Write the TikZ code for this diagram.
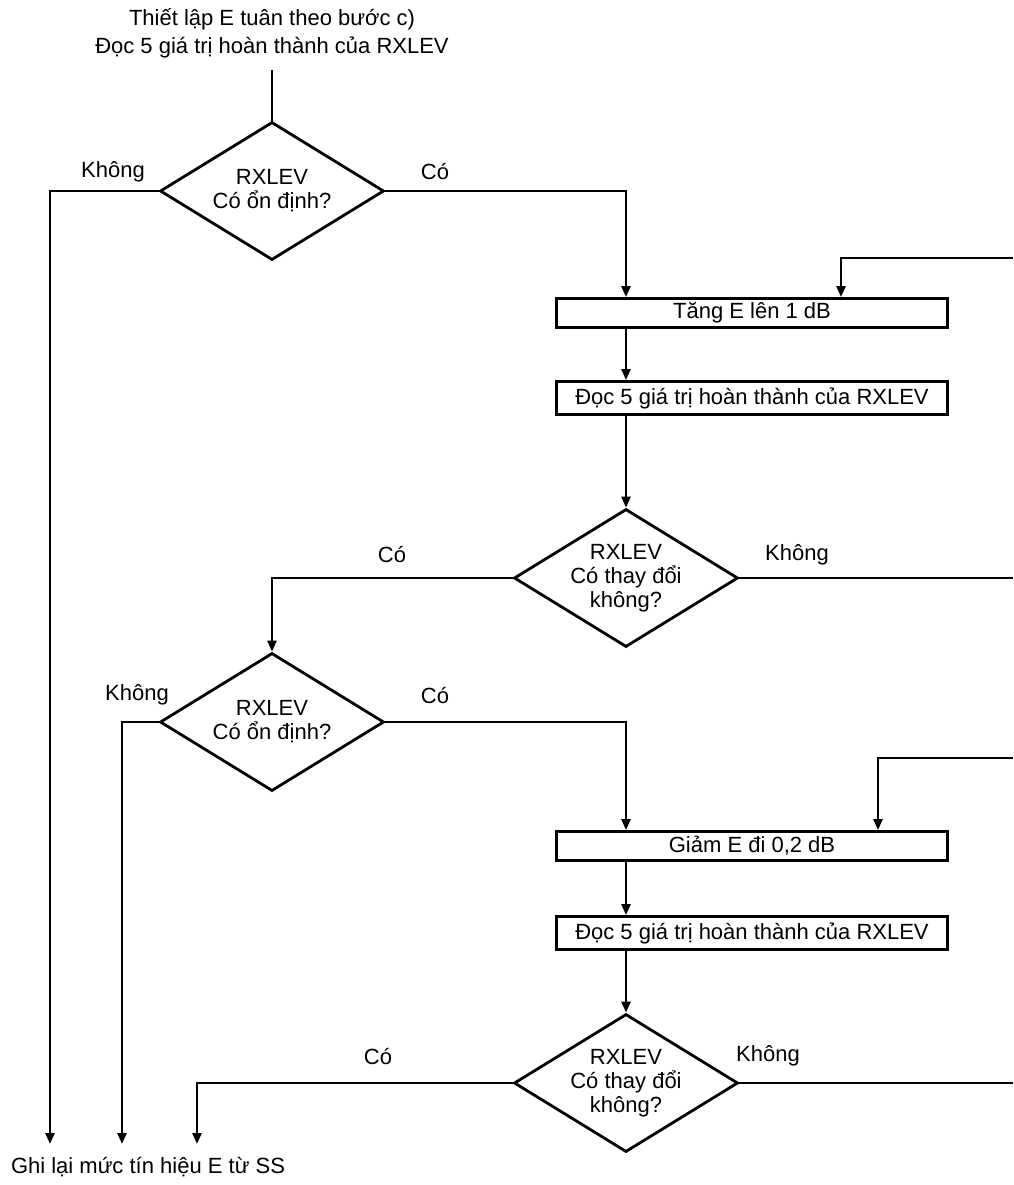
\documentclass[tikz,border=0pt]{standalone}
\usepackage{fontspec}
\setmainfont{Liberation Sans}
\usetikzlibrary{shapes.geometric,arrows.meta}
\begin{document}
\begin{tikzpicture}[x=1pt,y=-1pt,
  txt/.style={font=\fontsize{22}{24}\selectfont,inner sep=0pt,align=center},
  dia/.style={txt,draw,diamond,shape aspect=1.62,line width=2.8pt,minimum width=224pt,minimum height=138pt},
  box/.style={txt,draw,rectangle,line width=2.8pt,minimum width=391pt},
  conn/.style={line width=2.5pt},
  arr/.style={conn,-{Triangle[length=11pt,width=9pt]}}]
\useasboundingbox (0,0) rectangle (1013,1185);
\fill[white] (0,0) rectangle (1013,1185);
% start text
\node[txt,font=\fontsize{22}{28}\selectfont] (start) at (272,33) {Thiết lập E tuân theo bước c)\\Đọc 5 giá trị hoàn thành của RXLEV};
\node[dia] (d1) at (272,191) {RXLEV\\Có ổn định?};
\node[box,minimum height=29pt] (b1) at (752,313) {Tăng E lên 1 dB};
\node[box,minimum height=33pt] (b2) at (752,398) {Đọc 5 giá trị hoàn thành của RXLEV};
\node[dia] (d2) at (626,578) {RXLEV\\Có thay đổi\\không?};
\node[dia] (d3) at (272,722) {RXLEV\\Có ổn định?};
\node[box,minimum height=29pt] (b3) at (752,846) {Giảm E đi 0,2 dB};
\node[box,minimum height=33pt] (b4) at (752,933) {Đọc 5 giá trị hoàn thành của RXLEV};
\node[dia] (d4) at (626,1083) {RXLEV\\Có thay đổi\\không?};
\node[txt] (end) at (148,1167) {Ghi lại mức tín hiệu E từ SS};
% labels
\node[txt] (l1) at (113,172) {Không};
\node[txt] (l2) at (435,172) {Có};
\node[txt] (l3) at (392,555) {Có};
\node[txt] (l4) at (797,555) {Không};
\node[txt] (l5) at (137,695) {Không};
\node[txt] (l6) at (435,695) {Có};
\node[txt] (l7) at (378,1056) {Có};
\node[txt] (l8) at (768,1056) {Không};
% coordinates
\coordinate (e1) at (50,1144);
\coordinate (e2) at (122,1144);
\coordinate (e3) at (197,1144);
\coordinate (r1) at (1013,258);
\coordinate (r2) at (1013,578);
\coordinate (r3) at (1013,758);
\coordinate (r4) at (1013,1083);
% connectors
\draw[conn] (start.south |- 0,70) -- (d1.north);
\draw[arr] (d1.west) -| (e1);
\draw[arr] (d1.east) -| (b1.north -| d2.north);
\draw[arr] (r1) -| (b1.north -| 841,0);
\draw[arr] (b1.south -| d2.north) -- (b2.north -| d2.north);
\draw[arr] (b2.south -| d2.north) -- (d2.north);
\draw[conn] (d2.east) -- (r2);
\draw[arr] (d2.west) -| (d3.north);
\draw[arr] (d3.west) -| (e2);
\draw[arr] (d3.east) -| (b3.north -| d4.north);
\draw[arr] (r3) -| (b3.north -| 878,0);
\draw[arr] (b3.south -| d4.north) -- (b4.north -| d4.north);
\draw[arr] (b4.south -| d4.north) -- (d4.north);
\draw[conn] (d4.east) -- (r4);
\draw[arr] (d4.west) -| (e3);
\end{tikzpicture}
\end{document}
